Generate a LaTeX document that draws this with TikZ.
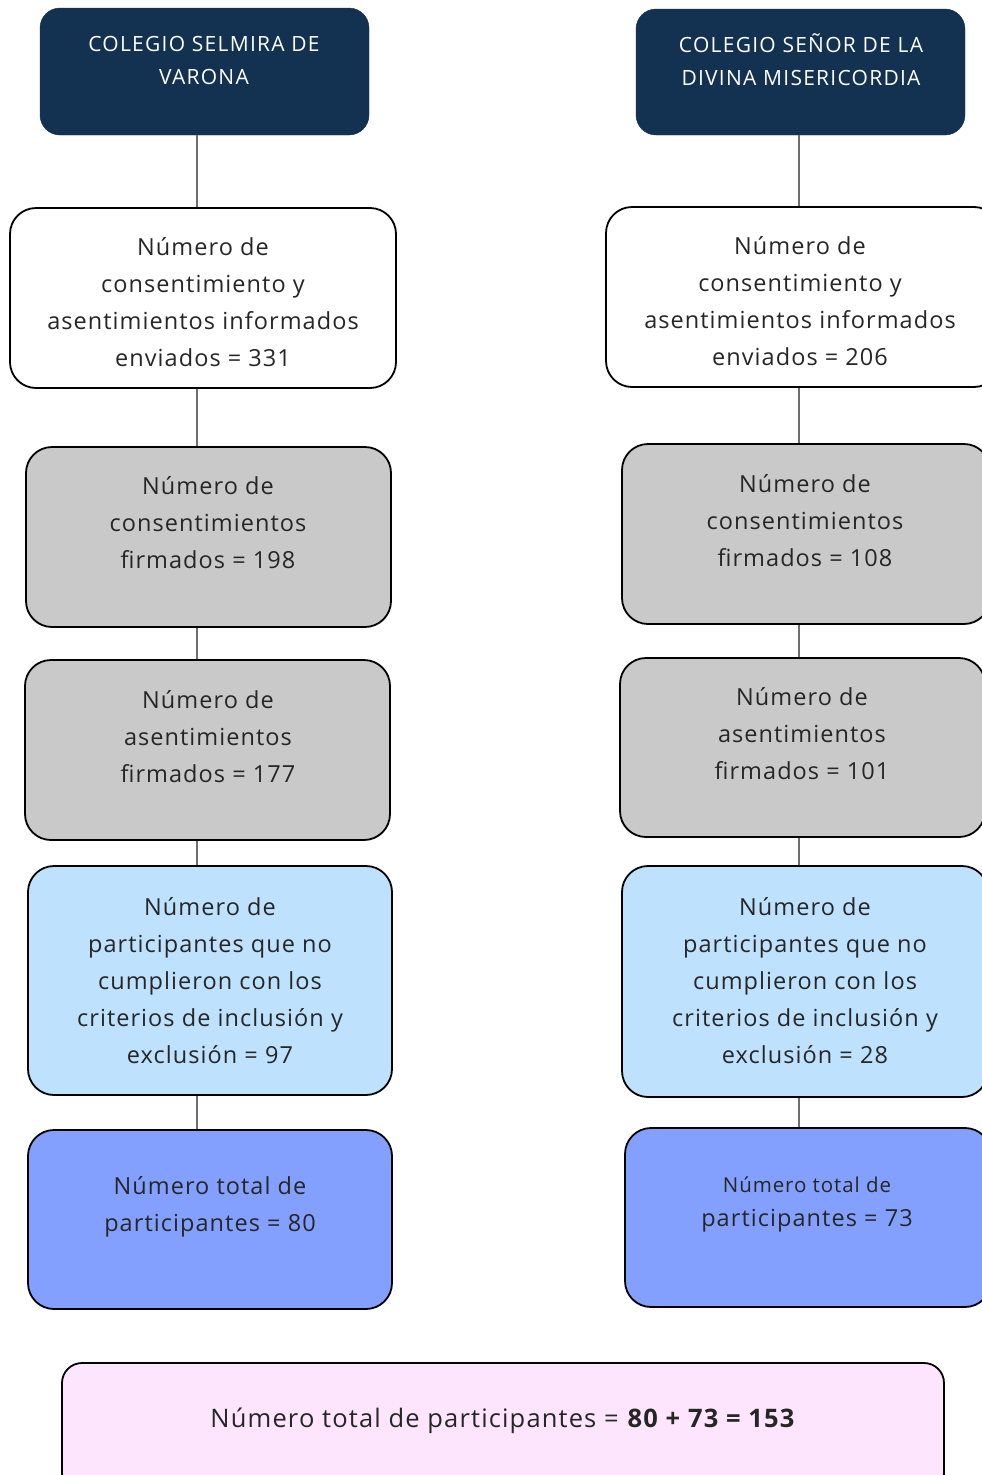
\documentclass[tikz,border=0pt]{standalone}
\usepackage{fontspec}
\setmainfont{Open Sans}[LetterSpace=4.5]
\newfontfamily\hdrfont{Open Sans}[LetterSpace=6]
\begin{document}
\begin{tikzpicture}[x=1pt,y=-1pt,
  box/.style={draw=black, line width=1.8pt, rounded corners=26pt, inner sep=0pt},
  hdr/.style={fill=navy, draw=navy, rounded corners=20pt, inner sep=0pt},
  txt/.style={align=center, text=txtc, font=\fontsize{23.5}{37}\selectfont, inner sep=0pt},
  htxt/.style={align=center, text=white, font=\hdrfont\fontsize{21}{33}\selectfont, inner sep=0pt},
  link/.style={draw=linkc, line width=1.4pt}]
\definecolor{navy}{HTML}{133150}
\definecolor{txtc}{HTML}{262626}
\definecolor{grayf}{HTML}{C9C9C9}
\definecolor{lblue}{HTML}{BEE1FE}
\definecolor{mblue}{HTML}{83A0FE}
\definecolor{pinkf}{HTML}{FDE6FD}
\definecolor{linkc}{HTML}{6E6E6E}
\useasboundingbox (0,0) rectangle (982,1475);
\clip (0,0) rectangle (982,1475);
% column x for connectors
\coordinate (xl) at (197,0);
\coordinate (xr) at (799,0);
% left column
\node[hdr, minimum width=329pt, minimum height=127pt] (L0) at (204.5,71.5) {};
\node[box, fill=white, minimum width=386pt, minimum height=180pt] (L1) at (203,298) {};
\node[box, fill=grayf, minimum width=365pt, minimum height=180pt] (L2) at (208.5,537) {};
\node[box, fill=grayf, minimum width=365pt, minimum height=180pt] (L3) at (207.5,750) {};
\node[box, fill=lblue, minimum width=364pt, minimum height=229pt] (L4) at (210,980.5) {};
\node[box, fill=mblue, minimum width=364pt, minimum height=179pt] (L5) at (210,1219.5) {};
% right column
\node[hdr, minimum width=329pt, minimum height=126pt] (R0) at (800.5,72) {};
\node[box, fill=white, minimum width=394pt, minimum height=180pt] (R1) at (803,297) {};
\node[box, fill=grayf, minimum width=368pt, minimum height=180pt] (R2) at (806,534) {};
\node[box, fill=grayf, minimum width=365pt, minimum height=179pt] (R3) at (802.5,747.5) {};
\node[box, fill=lblue, minimum width=366pt, minimum height=231pt] (R4) at (805,981.5) {};
\node[box, fill=mblue, minimum width=366pt, minimum height=179pt] (R5) at (808,1217.5) {};
% bottom
\node[box, fill=pinkf, rounded corners=20pt, minimum width=882pt, minimum height=130pt] (B) at (503,1428) {};
% connectors
\foreach \a/\b in {L0/L1,L1/L2,L2/L3,L3/L4,L4/L5}{
  \draw[link] (\a.south -| xl) -- (\b.north -| xl);}
\foreach \a/\b in {R0/R1,R1/R2,R2/R3,R3/R4,R4/R5}{
  \draw[link] (\a.south -| xr) -- (\b.north -| xr);}
% texts left
\node[htxt] (tL0) at (204,60) {COLEGIO SELMIRA DE\\VARONA};
\node[txt] (tL1) at (203,302) {Número de\\consentimiento y\\asentimientos informados\\enviados = 331};
\node[txt] (tL2) at (208,523) {Número de\\consentimientos\\firmados = 198};
\node[txt] (tL3) at (208,737) {Número de\\asentimientos\\firmados = 177};
\node[txt] (tL4) at (210,981) {Número de\\participantes que no\\cumplieron con los\\criterios de inclusión y\\exclusión = 97};
\node[txt] (tL5) at (210,1207) {Número total de\\participantes = 80};
% texts right
\node[htxt] (tR0) at (801,60) {COLEGIO SEÑOR DE LA\\DIVINA MISERICORDIA};
\node[txt] (tR1) at (800,301) {Número de\\consentimiento y\\asentimientos informados\\enviados = 206};
\node[txt] (tR2) at (805,521) {Número de\\consentimientos\\firmados = 108};
\node[txt] (tR3) at (802,734) {Número de\\asentimientos\\firmados = 101};
\node[txt] (tR4) at (805,981) {Número de\\participantes que no\\cumplieron con los\\criterios de inclusión y\\exclusión = 28};
\node[txt, font=\fontsize{23.5}{34}\selectfont] (tR5) at (807,1204) {{\fontsize{20.5}{34}\selectfont Número total de}\\participantes = 73};
% bottom text
\node[txt, font=\fontsize{25.5}{30}\selectfont] (tB) at (503,1421) {Número total de participantes = \textbf{80 + 73 = 153}};
\end{tikzpicture}
\end{document}
